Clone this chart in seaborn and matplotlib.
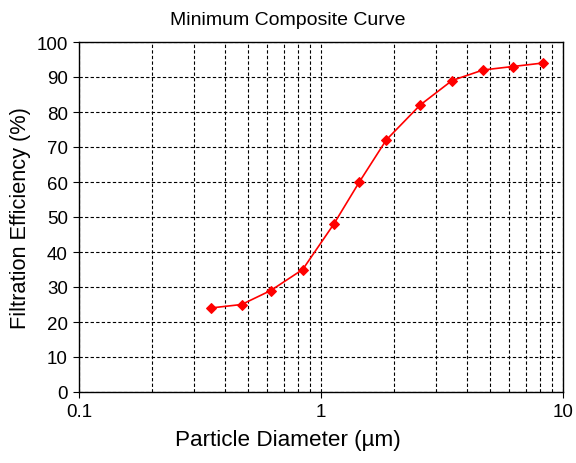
import pandas as pd
import seaborn as sns
import matplotlib.pyplot as plt
import matplotlib.ticker as mticker

diameter_um = [0.35, 0.47, 0.62, 0.84, 1.13, 1.44, 1.86, 2.57, 3.48, 4.67, 6.21, 8.27]
efficiency = [24, 25, 29, 35, 48, 60, 72, 82, 89, 92, 93, 94]

df = pd.DataFrame({'Particle Diameter (µm)': diameter_um,
                   'Filtration Efficiency (%)': efficiency})

sns.set_style('white')
plt.rcParams['font.family'] = ['Liberation Sans', 'DejaVu Sans']
plt.rcParams['text.color'] = 'black'
plt.rcParams['axes.labelcolor'] = 'black'

fig = plt.figure(figsize=(5.76, 4.64), dpi=100)
ax = fig.add_axes([79/576, 71/464, 484/576, 350/464])

sns.lineplot(data=df, x='Particle Diameter (µm)', y='Filtration Efficiency (%)',
             ax=ax, color='#ff0000', marker='D', markersize=5.5,
             markeredgecolor='#ff0000', linewidth=1.2)

ax.set_xscale('log')
ax.set_xlim(0.1, 10)
ax.set_ylim(0, 100)
ax.set_yticks(range(0, 101, 10))
ax.xaxis.set_major_formatter(mticker.FuncFormatter(lambda v, p: f'{v:g}'))
ax.xaxis.set_minor_locator(mticker.LogLocator(base=10, subs=range(2, 10)))
ax.xaxis.set_minor_formatter(mticker.NullFormatter())

ax.grid(True, which='major', axis='both', color='black', linestyle=(0, (3, 2)), linewidth=0.8)
ax.grid(True, which='minor', axis='x', color='black', linestyle=(0, (3, 2)), linewidth=0.8)
ax.set_axisbelow(True)

ax.tick_params(axis='both', which='major', direction='out', length=4, width=0.8,
               labelsize=13.5, colors='black', bottom=True, left=True, pad=4)
ax.tick_params(axis='x', which='minor', length=0)
for s in ax.spines.values():
    s.set_color('black')
    s.set_linewidth(1.0)

# title and x label are centred on the figure, not the axes
cx = (288 - 79) / 484
ax.set_title('Minimum Composite Curve', fontsize=14, pad=13, color='black')
ax.title.set_x(cx)
ax.set_xlabel('Particle Diameter (µm)', fontsize=16.2, labelpad=6)
ax.xaxis.set_label_coords(cx, -0.105)
ax.set_ylabel('Filtration Efficiency (%)', fontsize=15.7, labelpad=4)

fig.savefig('out.png', dpi=100)
